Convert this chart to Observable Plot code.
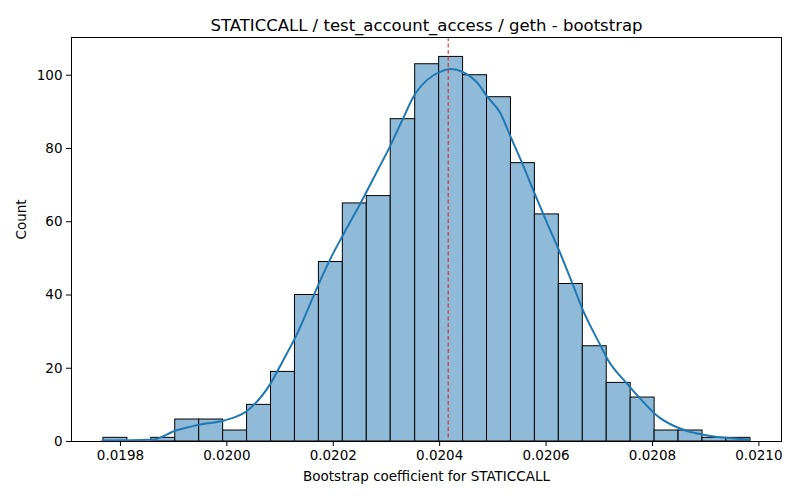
<!DOCTYPE html>
<html>
<head>
<meta charset="utf-8">
<script src="https://cdn.jsdelivr.net/npm/d3@7"></script>
<script src="https://cdn.jsdelivr.net/npm/@observablehq/plot@0.6"></script>
<style>
  html, body { margin: 0; padding: 0; background: white; }
</style>
</head>
<body>
<div id="chart"></div>
<script>
const titleText = "STATICCALL / test_account_access / geth - bootstrap";
const xLabelText = "Bootstrap coefficient for STATICCALL";
const yLabelText = "Count";

// Histogram bin edges (28 edges -> 27 bins) and counts
const binEdges = [0.019768, 0.019813, 0.019858, 0.019903, 0.019948, 0.019993, 0.020038,
  0.020083, 0.020128, 0.020173, 0.020218, 0.020263, 0.020308, 0.020354, 0.020399,
  0.020444, 0.020489, 0.020534, 0.020579, 0.020624, 0.020669, 0.020714, 0.020759,
  0.020804, 0.020849, 0.020894, 0.020939, 0.020984];
const binCounts = [1, 0, 1, 6, 6, 3, 10, 19, 40, 49, 65, 67, 88, 103, 105, 100, 94, 76,
  62, 43, 26, 16, 12, 3, 3, 1, 1];

// KDE curve
const kdeX = [0.019766, 0.019860, 0.019904, 0.019950, 0.019995, 0.020039, 0.020082,
  0.020106, 0.020129, 0.020173, 0.020195, 0.020220, 0.020251, 0.020279, 0.020308,
  0.020330, 0.020351, 0.020377, 0.020402, 0.020420, 0.020445, 0.020471, 0.020489,
  0.020514, 0.020533, 0.020555, 0.020577, 0.020602, 0.020624, 0.020652, 0.020668,
  0.020702, 0.020715, 0.020752, 0.020777, 0.020812, 0.020853, 0.020903, 0.020983];
const kdeY = [0.27, 0.47, 3.0, 4.65, 5.75, 8.48, 15.8, 22.2, 28.5, 43.1, 50.0, 56.8,
  65.0, 72.8, 81.0, 87.8, 94.2, 98.8, 101.0, 101.7, 100.8, 97.9, 94.2, 89.7, 83.3,
  76.0, 68.2, 59.6, 52.3, 42.2, 36.3, 26.3, 22.6, 15.8, 11.7, 6.65, 3.47, 1.64, 0.55];

// Bootstrap estimate marker
const estimate = [0.020416];

const xTicks = [0.0198, 0.0200, 0.0202, 0.0204, 0.0206, 0.0208, 0.0210];
const yTicks = [0, 20, 40, 60, 80, 100];

const bins = binCounts.map((c, i) => ({x1: binEdges[i], x2: binEdges[i + 1], count: c}));
const kde = kdeX.map((x, i) => ({x, y: kdeY[i]}));

const chart = Plot.plot({
  width: 800,
  height: 500,
  marginLeft: 71,
  marginRight: 19,
  marginTop: 37,
  marginBottom: 59,
  style: {fontFamily: "DejaVu Sans", fontSize: "13.5px", color: "black", background: "white"},
  x: {domain: [0.019708, 0.0210425]},
  y: {domain: [0, 110.3]},
  marks: [
    Plot.rect(bins, {x1: "x1", x2: "x2", y1: d => 0, y2: "count", fill: "#8fbbd9", stroke: "black", strokeWidth: 1}),
    Plot.line(kde, {x: "x", y: "y", stroke: "#1f77b4", strokeWidth: 2, curve: "monotone-x"}),
    Plot.ruleX(estimate, {stroke: "#e41a1c", strokeWidth: 1, strokeDasharray: "4,2.5"}),
    Plot.frame({stroke: "black", strokeWidth: 1}),
    Plot.axisX({ticks: xTicks, tickFormat: d3.format(".4f"), tickSize: 5, tickPadding: 4, label: null}),
    Plot.axisY({ticks: yTicks, tickSize: 5, tickPadding: 4, label: null}),
    Plot.text([titleText], {frameAnchor: "top", dy: -18, fontSize: 16.5}),
    Plot.text([xLabelText], {frameAnchor: "bottom", dy: 39}),
    Plot.text([yLabelText], {frameAnchor: "left", dx: -50, rotate: -90})
  ]
});
document.getElementById("chart").appendChild(chart);
</script>
</body>
</html>
